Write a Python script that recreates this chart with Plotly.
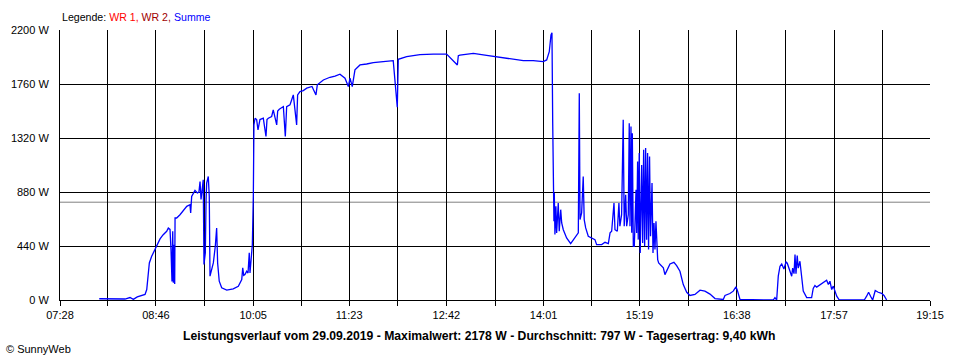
import plotly.graph_objects as go

# ---- data ----
# time of day in minutes after midnight, power of "Summe" in W
t_min = [
    479.9, 491.3, 494.6, 500.8, 504.9, 507.6, 510.8, 514.4, 517.1, 518.5, 519.3, 520.6,
    522.5, 524.4, 526.6, 529.3, 531.7, 534.7, 536.0, 537.4, 538.2, 539.0, 539.6, 540.1,
    540.7, 541.2, 541.5, 542.8, 545.5, 548.0, 551.0, 553.6, 554.2, 555.0, 557.7, 559.6,
    560.9, 561.8, 562.6, 563.2, 564.4, 565.0, 566.1, 566.7, 567.2, 568.5, 569.3, 569.9,
    571.3, 572.6, 574.2, 575.3, 576.1, 577.4, 579.4, 583.5, 588.8, 592.9, 595.7, 596.5,
    597.3, 598.3, 599.7, 600.8, 601.8, 602.4, 604.3, 605.1, 605.6,
    606.5, 607.8, 608.9, 610.5, 613.2, 615.4, 616.2, 617.3, 620.0, 621.3, 624.1, 624.9,
    626.2, 629.5, 631.1, 632.2, 634.9, 636.3, 637.6, 640.3, 641.1, 643.0, 645.7, 648.5,
    652.8, 656.0, 657.1, 662.0, 667.4, 671.5, 675.5, 679.6, 682.3, 683.7, 685.5, 687.7,
    691.8, 697.2, 702.6, 710.7, 718.8, 722.1, 722.9, 729.7, 740.5, 751.4, 762.2, 770.9,
    771.7, 773.0, 783.9, 794.7, 805.5, 816.4, 824.5, 832.6, 840.7, 843.5, 845.6, 847.0,
    847.8, 848.4, 848.9, 849.4, 849.7, 850.2, 851.0, 851.6, 852.9, 853.7, 854.9, 855.7,
    857.0, 859.7, 863.0, 866.5, 869.2, 870.0, 870.6, 871.9, 873.2, 874.0, 875.2, 877.3,
    880.1, 882.7, 884.1, 888.2, 890.9, 893.6, 895.0, 896.3, 898.2, 899.0, 900.9, 902.2,
    903.0, 904.4, 905.7, 906.5, 907.7, 908.5, 909.8, 910.6, 911.2, 912.0, 912.6, 913.1,
    913.9, 914.7, 916.1, 916.6, 917.4, 917.9, 918.7, 919.5, 920.7, 921.5, 922.3, 923.1,
    923.9, 924.7, 925.5, 926.3, 927.1, 927.9, 929.1, 929.9, 930.7, 931.5, 932.3, 933.1,
    933.7, 934.5, 937.0, 938.3, 939.6, 941.0, 943.7, 946.9, 949.1, 951.8, 954.5, 957.3,
    959.9, 964.0, 968.1, 972.1, 976.2, 980.3, 984.3, 987.0, 988.4, 992.4, 995.1, 997.3,
    998.4, 999.5, 1000.6, 1027.6, 1029.0, 1030.4, 1031.7, 1033.1, 1034.5, 1036.3, 1038.0,
    1039.0, 1040.6, 1041.4, 1042.6, 1043.4, 1044.5, 1045.3, 1046.1, 1047.1, 1047.9, 1049.3,
    1050.7, 1052.0, 1054.8, 1058.8, 1060.1, 1061.5, 1062.9, 1065.6, 1068.3, 1071.0, 1072.4,
    1073.7, 1075.1, 1076.4, 1077.8, 1079.2, 1081.3, 1101.6, 1103.5, 1105.1, 1106.7, 1108.4,
    1110.5, 1112.9, 1115.7, 1117.6, 1119.8,
]
summe_w = [
    10, 10, 10, 8, 20, 5, 25, 37, 45, 85, 153, 302,
    356, 397, 451, 498, 530, 560, 587, 575, 410, 150, 560, 140,
    450, 130, 668, 668, 695, 730, 763, 776, 709, 844, 893, 872,
    880, 966, 820, 870, 980, 289, 384, 820, 953, 1007, 844, 194,
    248, 302, 438, 587, 302, 153, 99, 80, 91, 112, 167, 262,
    200, 207, 234, 220, 384, 221, 451, 844, 1426,
    1481, 1470, 1386, 1470, 1481, 1332, 1470, 1481, 1495, 1549, 1427, 1540,
    1554, 1576, 1332, 1576, 1590, 1631, 1671, 1427, 1671, 1698, 1706, 1726,
    1740, 1671, 1753, 1793, 1815, 1825, 1840, 1807, 1739, 1807, 1739, 1875,
    1915, 1923, 1934, 1942, 1950, 1571, 1961, 1983, 1999, 2004, 2004, 1915,
    1990, 1996, 2010, 1994, 1978, 1964, 1950, 1950, 1942, 1956, 2023, 2160,
    2178, 1441, 1129, 641, 872, 533, 763, 547, 790, 560, 736, 628,
    573, 506, 460, 506, 547, 1685, 655, 709, 1007, 655, 587, 519,
    506, 492, 451, 451, 470, 460, 547, 560, 790, 573, 560, 790,
    601, 696, 1468, 601, 858, 601, 696, 1441, 600, 1413, 547, 1359,
    438, 438, 898, 547, 1129, 492, 1197, 384, 1099, 465, 1224, 438,
    1238, 492, 1197, 411, 1170, 520, 953, 384, 628, 411, 641, 411,
    329, 302, 275, 262, 207, 234, 294, 307, 280, 234, 126, 63,
    37, 45, 80, 72, 48, 12, 4, 4, 37, 53, 72, 107,
    80, 37, 4, 0, 20, 0, 194, 275, 294, 253, 310,
    300, 249, 230, 194, 260, 215, 370, 215, 362, 260, 316,
    153, 72, 20, 20, 94, 118, 105, 126, 145, 161, 126,
    153, 85, 113, 72, 31, 0, 0, 31, 63, 31, 0,
    77, 63, 55, 37, 0,
]

x_tick_labels = ["07:28", "08:46", "10:05", "11:23", "12:42", "14:01",
                 "15:19", "16:38", "17:57", "19:15"]
y_tick_values = [0, 440, 880, 1320, 1760, 2200]

DATE = "29.09.2019"
MAX_W = 2178
AVG_W = 797
YIELD_KWH = "9,40"

# ---- helpers ----
def to_min(s):
    h, m = s.split(":")
    return int(h) * 60 + int(m)

major = [to_min(s) for s in x_tick_labels]
tickvals, ticktext = [], []
for i, v in enumerate(major):
    tickvals.append(v)
    ticktext.append(x_tick_labels[i])
    if i < len(major) - 1:
        tickvals.append((v + major[i + 1]) / 2)
        ticktext.append("")

FONT = "Liberation Sans, Arial, sans-serif"

fig = go.Figure()
fig.add_trace(go.Scatter(
    x=t_min, y=summe_w, mode="lines",
    line=dict(color="#0000FF", width=1.3, shape="linear"),
    hoverinfo="skip", showlegend=False,
))

# average line
fig.add_shape(type="line", xref="x", yref="y",
              x0=major[0], x1=major[-1], y0=AVG_W, y1=AVG_W,
              line=dict(color="#808080", width=1), layer="below")

fig.update_xaxes(
    range=[major[0], major[-1]],
    tickmode="array", tickvals=tickvals, ticktext=ticktext,
    showgrid=True, gridcolor="#000000", gridwidth=1,
    showline=True, linecolor="#000000", linewidth=1,
    ticks="outside", ticklen=5, tickcolor="#000000", tickwidth=1,
    tickfont=dict(family=FONT, size=11, color="#000000"),
    zeroline=False, fixedrange=True,
)
fig.update_yaxes(
    range=[0, 2200],
    tickmode="array", tickvals=y_tick_values,
    ticktext=[f"{v} W" for v in y_tick_values],
    showgrid=True, gridcolor="#000000", gridwidth=1,
    showline=True, linecolor="#000000", linewidth=1,
    ticks="", ticklabelstandoff=8,
    tickfont=dict(family=FONT, size=11, color="#000000"),
    zeroline=False, fixedrange=True,
)

legend_txt = ("Legende: <span style='color:#FF0000'>WR 1,</span> "
              "<span style='color:#A00000'>WR 2,</span> "
              "<span style='color:#0000FF'>Summe</span>")
title_txt = (f"<b>Leistungsverlauf vom {DATE} - Maximalwert: {MAX_W} W - "
             f"Durchschnitt: {AVG_W} W - Tagesertrag: {YIELD_KWH} kWh</b>")

fig.update_layout(
    width=960, height=360,
    margin=dict(l=60, r=30, t=30, b=60, pad=0),
    paper_bgcolor="white", plot_bgcolor="white",
    showlegend=False,
    hovermode=False,
    annotations=[
        dict(text=legend_txt, xref="paper", yref="paper", x=0.0, y=1.048,
             xanchor="left", yanchor="middle", showarrow=False,
             font=dict(family=FONT, size=10.6, color="#000000")),
        dict(text=title_txt, xref="paper", yref="paper", x=0.482, y=-0.132,
             xanchor="center", yanchor="middle", showarrow=False,
             font=dict(family=FONT, size=12.2, color="#000000")),
        dict(text="© SunnyWeb", xref="paper", yref="paper", x=-0.064, y=-0.18,
             xanchor="left", yanchor="middle", showarrow=False,
             font=dict(family=FONT, size=11, color="#000000")),
    ],
)

fig.write_html("out.html",
               config={"displayModeBar": False, "staticPlot": True},
               post_script="document.body.style.margin='0';"
                           "document.body.style.overflow='hidden';")
